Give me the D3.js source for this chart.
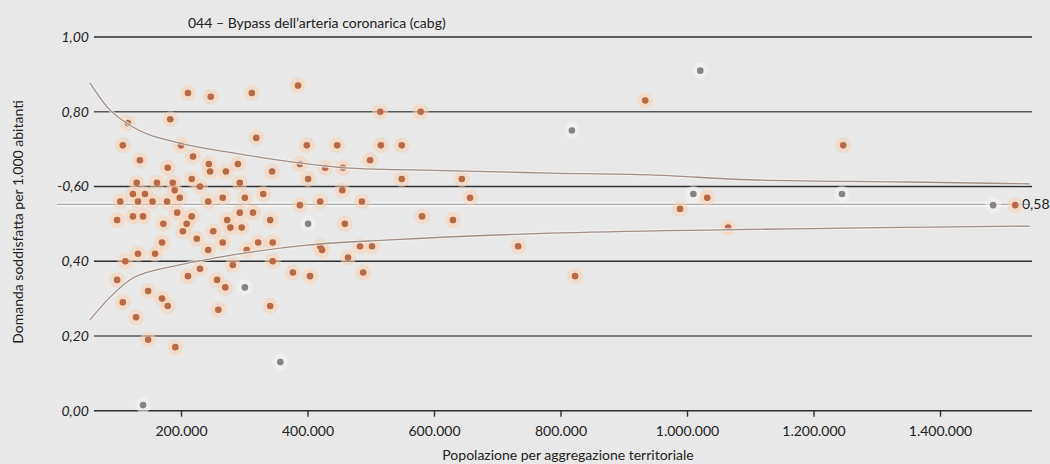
<!DOCTYPE html>
<html>
<head>
<meta charset="utf-8">
<script src="https://cdn.jsdelivr.net/npm/d3@7"></script>
<style>
  html, body { margin: 0; padding: 0; background: #e8e8e8; }
  svg { display: block; }
  text { font-family: Lato, "Open Sans", sans-serif; fill: #222; }
</style>
</head>
<body>
<svg id="chart" width="1050" height="464"></svg>
<script>
// ---------------- DATA ----------------
const titolo = "044 – Bypass dell’arteria coronarica (cabg)";
const titoloY = "Domanda soddisfatta per 1.000 abitanti";
const titoloX = "Popolazione per aggregazione territoriale";

// population of each territorial aggregation (thousands)
const popolazioneMigliaia = [
  211,247,312,385,515,579,934,1021,1247,818,
  116,183,108,200,319,399,447,516,549,219,
  135,179,244,290,344,388,428,456,499,217,
  246,271,130,187,293,401,455,549,644,330,
  104,143,132,178,198,243,266,301,486,388,
  420,657,99,140,172,194,209,273,314,341,
  296,401,459,581,630,217,293,124,170,203,
  225,251,266,278,243,132,159,304,112,282,
  322,345,420,423,483,502,464,345,377,404,
  488,301,341,99,148,170,179,211,230,257,
  270,108,129,259,148,191,357,140,733,823,
  989,1010,1032,1065,1245,1484,1519,
  124,162,155,190,230
];
// satisfied demand per 1,000 inhabitants
const domanda = [
  0.85,0.84,0.85,0.87,0.80,0.80,0.83,0.91,0.71,0.75,
  0.77,0.78,0.71,0.71,0.73,0.71,0.71,0.71,0.71,0.68,
  0.67,0.65,0.66,0.66,0.64,0.66,0.65,0.65,0.67,0.62,
  0.64,0.64,0.61,0.61,0.61,0.62,0.59,0.62,0.62,0.58,
  0.56,0.58,0.56,0.56,0.57,0.56,0.57,0.57,0.56,0.55,
  0.56,0.57,0.51,0.52,0.50,0.53,0.50,0.51,0.53,0.51,
  0.49,0.50,0.50,0.52,0.51,0.52,0.53,0.52,0.45,0.48,
  0.46,0.48,0.45,0.49,0.43,0.42,0.42,0.43,0.40,0.39,
  0.45,0.45,0.44,0.43,0.44,0.44,0.41,0.40,0.37,0.36,
  0.37,0.33,0.28,0.35,0.32,0.30,0.28,0.36,0.38,0.35,
  0.33,0.29,0.25,0.27,0.19,0.17,0.13,0.015,0.44,0.36,
  0.54,0.58,0.57,0.49,0.58,0.55,0.55,
  0.58,0.61,0.56,0.59,0.60
];
// points drawn in the second (grey) group
const puntiGrigi = [7,9,61,91,106,107,111,114,115];

// control limits (population thousands, value)
const limiteSupX = [56,83,124,198,282,388,467,546,783,941,1100,1350,1542];
const limiteSupY = [0.877,0.813,0.759,0.716,0.690,0.663,0.649,0.645,0.636,0.631,0.618,0.612,0.607];
const limiteInfX = [56,88,124,198,282,399,530,783,1052,1273,1542];
const limiteInfY = [0.243,0.304,0.355,0.390,0.417,0.443,0.457,0.475,0.484,0.489,0.494];

const media = 0.552;
const mediaEtichetta = "0,58";

const ticksY = [0, 0.2, 0.4, 0.6, 0.8, 1.0];
const etichetteY = ["0,00", "0,20", "0,40", "-0,60", "0,80", "1,00"];
const ticksX = [200000, 400000, 600000, 800000, 1000000, 1200000, 1400000];

// ---------------- CHART ----------------
const svg = d3.select("#chart");
const W = 1050, H = 464;
svg.append("rect").attr("width", W).attr("height", H).attr("fill", "#e8e8e8");

const plotLeft = 94, plotRight = 1032;
const x = d3.scaleLinear().domain([0, 1400000]).range([54.5, 940]);
const y = d3.scaleLinear().domain([0, 1]).range([410.7, 37]);

const it = d3.formatLocale({decimal: ",", thousands: ".", grouping: [3], currency: ["", ""]});
const fmtX = it.format(",d");

// grid lines
svg.append("g").selectAll("line").data(ticksY).join("line")
  .attr("x1", plotLeft).attr("x2", plotRight)
  .attr("y1", d => y(d)).attr("y2", d => y(d))
  .attr("stroke", (d, i) => (i === 1 || i === 4) ? "#5a5a5a" : "#2e2e2e")
  .attr("stroke-width", 1.4);

// y labels
svg.append("g").selectAll("text").data(ticksY).join("text")
  .attr("x", 89).attr("y", d => y(d) + 5)
  .attr("text-anchor", "end")
  .style("font-style", "italic")
  .style("font-size", "14px")
  .text((d, i) => etichetteY[i]);

// x axis ticks
const xAxis = d3.axisBottom(x).tickValues(ticksX).tickSize(6).tickFormat(fmtX);
const gx = svg.append("g").attr("transform", `translate(0,${y(0)})`).call(xAxis);
gx.select(".domain").remove();
gx.selectAll(".tick line").attr("stroke", "#2e2e2e").attr("stroke-width", 1.4);
gx.selectAll(".tick text").attr("y", 15).attr("dy", "0.71em")
  .style("font-size", "14px").style("font-family", "Lato, sans-serif").attr("fill", "#222");

// mean line
svg.append("line")
  .attr("x1", 57).attr("x2", 1030)
  .attr("y1", y(media)).attr("y2", y(media))
  .attr("stroke", "#f7f7f7").attr("stroke-width", 4);
svg.append("line")
  .attr("x1", 57).attr("x2", 1030)
  .attr("y1", y(media)).attr("y2", y(media))
  .attr("stroke", "#a9a9a9").attr("stroke-width", 1.3);
svg.append("text")
  .attr("x", 1022).attr("y", y(media) + 5)
  .style("font-size", "14px")
  .text(mediaEtichetta);

// points
const punti = popolazioneMigliaia.map((p, i) => ({
  pop: p * 1000, val: domanda[i], grigio: puntiGrigi.includes(i)
}));
const gp = svg.append("g");
gp.selectAll("circle.halo").data(punti).join("circle")
  .attr("class", "halo")
  .attr("cx", d => x(d.pop)).attr("cy", d => y(d.val))
  .attr("r", 8)
  .attr("fill", d => d.grigio ? "#f4f4f4" : "#f8d2b4")
  .attr("opacity", 0.55);
gp.selectAll("circle.core").data(punti).join("circle")
  .attr("class", "core")
  .attr("cx", d => x(d.pop)).attr("cy", d => y(d.val))
  .attr("r", 3.3)
  .attr("fill", d => d.grigio ? "#8a8282" : "#b86a45");

// control limits
const linea = d3.line().x(d => x(d[0] * 1000)).y(d => y(d[1])).curve(d3.curveMonotoneX);
const sup = limiteSupX.map((v, i) => [v, limiteSupY[i]]);
const inf = limiteInfX.map((v, i) => [v, limiteInfY[i]]);
[sup, inf].forEach(arr => {
  svg.append("path").attr("d", linea(arr)).attr("fill", "none")
    .attr("stroke", "#f3f3f3").attr("stroke-width", 3.5).attr("opacity", 0.7);
  svg.append("path").attr("d", linea(arr)).attr("fill", "none")
    .attr("stroke", "#a28e84").attr("stroke-width", 1.3);
});

// titles
svg.append("text").attr("x", 188).attr("y", 28)
  .style("font-size", "14px").text(titolo);
svg.append("text")
  .attr("transform", "translate(23,222) rotate(-90)")
  .attr("text-anchor", "middle")
  .style("font-size", "14px").text(titoloY);
svg.append("text").attr("x", 568).attr("y", 460)
  .attr("text-anchor", "middle")
  .style("font-size", "14px").text(titoloX);
</script>
</body>
</html>
